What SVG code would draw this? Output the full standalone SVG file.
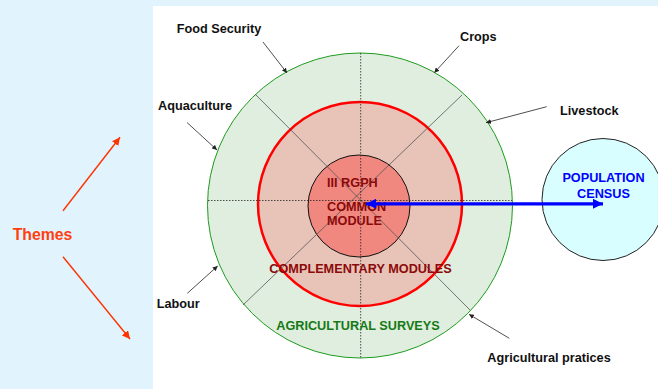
<svg xmlns="http://www.w3.org/2000/svg" width="658" height="389" viewBox="0 0 658 389">
<defs>
<style>
text{font-family:"Liberation Sans",Arial,sans-serif;font-weight:bold;font-size:12.7px}
.lbl{fill:#111}
.red{fill:#8B0A0A}
.grn{fill:#157A15}
.blu{fill:#0000FF}
.lead{stroke:#222;stroke-width:0.8;fill:none;marker-end:url(#sm)}
.diag{stroke:#555;stroke-width:0.8}
.dot{stroke:#222;stroke-width:0.8;stroke-dasharray:1.5 1.5}
</style>
<marker id="sm" viewBox="0 0 10 10" refX="10" refY="5" markerWidth="5" markerHeight="5" orient="auto" markerUnits="userSpaceOnUse"><path d="M0,0 L10,5 L0,10 z" fill="#222"/></marker>
<marker id="om" viewBox="0 0 10 10" refX="10" refY="5" markerWidth="8" markerHeight="8" orient="auto" markerUnits="userSpaceOnUse"><path d="M0,0 L10,5 L0,10 z" fill="#FF3300"/></marker>
<marker id="bm" viewBox="0 0 10 10" refX="10" refY="5" markerWidth="10" markerHeight="10" orient="auto-start-reverse" markerUnits="userSpaceOnUse"><path d="M0,0 L10,5 L0,10 z" fill="#0000FF"/></marker>
</defs>
<rect x="0" y="0" width="658" height="389" fill="#E1F3FD"/>
<rect x="153" y="6" width="505" height="383" fill="#FFFFFF"/>

<g id="agricultural-surveys">
<circle cx="360" cy="205.5" r="152.5" fill="#E0EEDF" stroke="#1E9A1E" stroke-width="1"/>
</g>
<g id="complementary-modules">
<circle cx="360" cy="204" r="102" fill="#E8C3B8" stroke="#FF0000" stroke-width="2.5"/>
</g>
<g id="common-module">
<circle cx="359" cy="206" r="51" fill="#F08880" stroke="#111" stroke-width="1"/>
</g>
<g id="population-census">
<circle cx="603" cy="199.5" r="61" fill="#D9FEFF" stroke="#222" stroke-width="1"/>
<text class="blu" x="603.5" y="182" text-anchor="middle">POPULATION</text>
<text class="blu" x="603.5" y="198" text-anchor="middle">CENSUS</text>
</g>

<g id="dividers">
<line class="diag" x1="255" y1="94" x2="470" y2="310"/>
<line class="diag" x1="462" y1="95" x2="243" y2="305"/>
<line class="dot" x1="208" y1="200.5" x2="512" y2="200.5"/>
<line class="dot" x1="360.7" y1="53" x2="360.7" y2="358"/>
</g>

<g id="labels-center">
<text class="red" x="327" y="187">III RGPH</text>
<text class="red" x="327" y="211">COMMON</text>
<text class="red" x="327" y="225">MODULE</text>
<text class="red" x="360.5" y="272.7" text-anchor="middle">COMPLEMENTARY MODULES</text>
<text class="grn" x="358" y="330" text-anchor="middle">AGRICULTURAL SURVEYS</text>
</g>

<g id="theme-labels">
<text class="lbl" x="176.7" y="33">Food Security</text>
<text class="lbl" x="158" y="110">Aquaculture</text>
<text class="lbl" x="460" y="41">Crops</text>
<text class="lbl" x="560" y="115">Livestock</text>
<text class="lbl" x="156.7" y="308">Labour</text>
<text class="lbl" x="487.3" y="361.7">Agricultural pratices</text>
</g>

<g id="themes">
<text x="12.7" y="240" style="font-size:15.8px;fill:#FF4010">Themes</text>
</g>

<g id="connectors">
<line class="lead" x1="263" y1="42" x2="287" y2="73"/>
<line class="lead" x1="187" y1="122.5" x2="217" y2="150"/>
<line class="lead" x1="459" y1="45.7" x2="434.3" y2="72.7"/>
<line class="lead" x1="546.7" y1="106.7" x2="486" y2="122.7"/>
<line class="lead" x1="187.3" y1="293.3" x2="217.7" y2="266"/>
<line class="lead" x1="509.3" y1="338.3" x2="469" y2="314.3"/>
<line x1="63" y1="210.7" x2="120" y2="137.3" stroke="#FF3300" stroke-width="1.4" marker-end="url(#om)"/>
<line x1="63" y1="256.7" x2="130" y2="339" stroke="#FF3300" stroke-width="1.4" marker-end="url(#om)"/>
<line x1="366" y1="203.8" x2="603" y2="203.8" stroke="#0000FF" stroke-width="3.2" marker-start="url(#bm)" marker-end="url(#bm)"/>
</g>
</svg>
